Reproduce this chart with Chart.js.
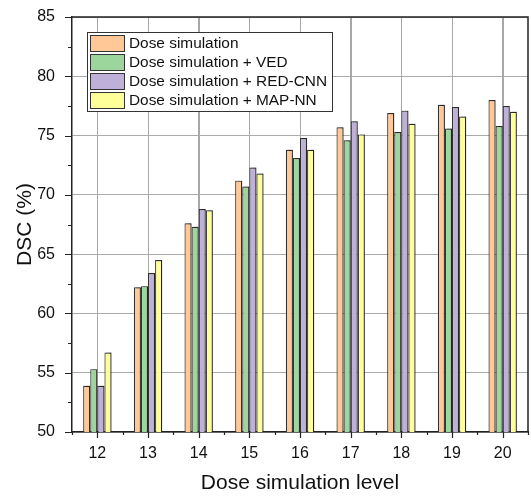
<!DOCTYPE html>
<html>
<head>
<meta charset="utf-8">
<script src="https://cdn.jsdelivr.net/npm/chart.js@4"></script>
<style>
html,body{margin:0;padding:0;background:#fff;}
#wrap{width:531px;height:496px;position:relative;}
</style>
</head>
<body>
<div id="wrap"><canvas id="c" width="531" height="496"></canvas></div>
<script>
const categories = ['12','13','14','15','16','17','18','19','20'];
const seriesNames = ['Dose simulation','Dose simulation + VED','Dose simulation + RED-CNN','Dose simulation + MAP-NN'];
const doseSim = [53.9, 62.2, 67.6, 71.2, 73.8, 75.7, 76.9, 77.6, 78.0];
const ved     = [55.3, 62.3, 67.3, 70.7, 73.1, 74.6, 75.3, 75.6, 75.8];
const redCnn  = [53.9, 63.4, 68.8, 72.3, 74.8, 76.2, 77.1, 77.4, 77.5];
const mapNn   = [56.7, 64.5, 68.7, 71.8, 73.8, 75.1, 76.0, 76.6, 77.0];
const yTicks  = [50, 55, 60, 65, 70, 75, 80, 85];

const colors = ['#FFC896','#9CD69C','#BEB0D8','#FFFF99'];
const FONT = "'Liberation Sans', Arial, sans-serif";

function drawVGrid(chart){
  const ctx = chart.ctx, a = chart.chartArea, xs = chart.scales.x;
  ctx.save();
  ctx.strokeStyle = '#a8a8a8'; ctx.lineWidth = 1;
  ctx.beginPath();
  for (let i = 0; i < categories.length; i++) {
    const x = Math.round(xs.getPixelForValue(i)) + 0.5;
    ctx.moveTo(x, a.top); ctx.lineTo(x, a.bottom);
  }
  ctx.stroke();
  ctx.restore();
}

const barsPlugin = {
  id:'barsDeco',
  beforeDraw(chart){ drawVGrid(chart); },
  beforeDatasetsDraw(chart){
    const ctx = chart.ctx;
    ctx.save();
    ctx.shadowColor = 'rgba(0,0,0,0.28)';
    ctx.shadowOffsetX = 2; ctx.shadowOffsetY = -1; ctx.shadowBlur = 0;
  },
  afterDatasetsDraw(chart){ chart.ctx.restore(); }
};

const framePlugin = {
  id:'frameDeco',
  afterDraw(chart){
    const ctx = chart.ctx, a = chart.chartArea;
    const xs = chart.scales.x, ys = chart.scales.y;
    ctx.save();
    ctx.strokeStyle = '#222'; ctx.lineWidth = 1.5;
    ctx.beginPath();
    ctx.moveTo(a.left, a.top); ctx.lineTo(a.right, a.top); ctx.lineTo(a.right, a.bottom);
    ctx.stroke();
    ctx.lineWidth = 1.2;
    ctx.beginPath();
    for (let v = yTicks[0]; v <= yTicks[yTicks.length-1] + 0.001; v += 2.5) {
      const y = Math.round(ys.getPixelForValue(v)) + 0.5;
      const major = Math.abs(v/5 - Math.round(v/5)) < 1e-6;
      ctx.moveTo(a.left, y); ctx.lineTo(a.left - (major ? 7 : 4), y);
    }
    for (let i = 0; i < categories.length; i++) {
      const x = Math.round(xs.getPixelForValue(i)) + 0.5;
      ctx.moveTo(x, a.bottom); ctx.lineTo(x, a.bottom + 6);
    }
    for (let i = 0; i <= categories.length; i++) {
      const x = Math.round(xs.getPixelForValue(i - 0.5)) + 0.5;
      ctx.moveTo(x, a.bottom); ctx.lineTo(x, a.bottom + 3);
    }
    ctx.stroke();
    // legend
    const lx = 87, ly = 32, lw = 245, lh = 79, rowH = 19;
    ctx.fillStyle = '#fff'; ctx.fillRect(lx, ly, lw, lh);
    ctx.strokeStyle = '#333'; ctx.lineWidth = 1;
    ctx.strokeRect(lx + 0.5, ly + 0.5, lw, lh);
    ctx.font = '15.4px ' + FONT; ctx.textBaseline = 'middle'; ctx.textAlign = 'left';
    chart.data.datasets.forEach((ds, i) => {
      const cy = ly + 11 + i * rowH;
      ctx.fillStyle = ds.backgroundColor;
      ctx.fillRect(lx + 3, cy - 8, 34, 16);
      ctx.strokeStyle = '#333'; ctx.lineWidth = 1;
      ctx.strokeRect(lx + 3.5, cy - 7.5, 34, 16);
      ctx.fillStyle = '#111';
      ctx.fillText(ds.label, lx + 42, cy + 1);
    });
    ctx.restore();
  }
};

const seriesData = [doseSim, ved, redCnn, mapNn];
new Chart(document.getElementById('c'), {
  type:'bar',
  data:{
    labels: categories,
    datasets: seriesData.map((d, i) => ({
      label: seriesNames[i], data: d,
      backgroundColor: colors[i], borderColor:'#333', borderWidth:1.2,
      borderSkipped:'bottom', barPercentage:1, categoryPercentage:0.56
    }))
  },
  options:{
    responsive:false, animation:false, devicePixelRatio:1,
    layout:{padding:{top:17, right:3, left:0, bottom:0}},
    plugins:{legend:{display:false}, tooltip:{enabled:false}},
    scales:{
      x:{
        grid:{display:true, offset:false, color:'#a8a8a8', lineWidth:1, drawTicks:false},
        border:{color:'#222', width:1.5},
        ticks:{color:'#111', font:{family:FONT, size:16}, padding:12},
        title:{display:true, text:'Dose simulation level', color:'#111', font:{family:FONT, size:21}, padding:{top:0,bottom:0}},
        afterFit(s){ s.height = 64; s.paddingLeft = 0; s.paddingRight = 0; }
      },
      y:{
        min:50, max:85,
        afterBuildTicks(s){ s.ticks = yTicks.map(v => ({value:v})); },
        grid:{color:'#ababab', lineWidth:1, drawTicks:false},
        border:{color:'#222', width:1.5},
        ticks:{color:'#111', font:{family:FONT, size:16}, padding:17},
        title:{display:true, text:'DSC (%)', color:'#111', font:{family:FONT, size:21}, padding:{top:13,bottom:0}},
        afterFit(s){ s.width = 72; s.paddingTop = 0; s.paddingBottom = 0; }
      }
    }
  },
  plugins:[barsPlugin, framePlugin]
});
</script>
</body>
</html>
